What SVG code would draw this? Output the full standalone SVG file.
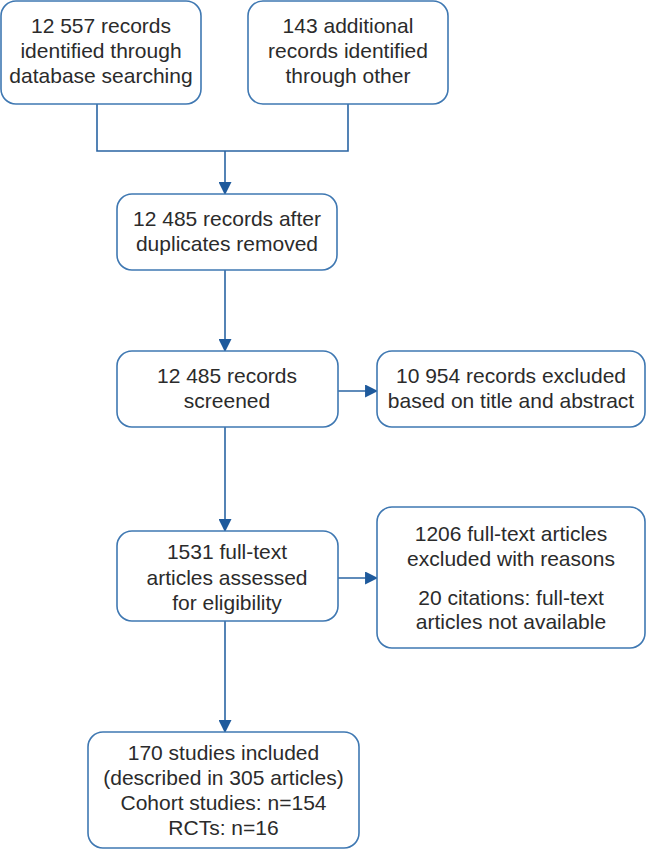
<svg xmlns="http://www.w3.org/2000/svg" width="646" height="852" viewBox="0 0 646 852">
<defs>
<marker id="ah" viewBox="0 0 12 12" refX="11" refY="6" markerWidth="13" markerHeight="13" markerUnits="userSpaceOnUse" orient="auto">
<path d="M0,0 L12,6 L0,12 Z" fill="#1e5a9c"/>
</marker>
<style>
.box{fill:#fff;stroke:#3f78b2;stroke-width:1.6}
.t{font-family:"Liberation Sans",Arial,sans-serif;font-size:21px;fill:#2b2b2b;text-anchor:middle}
.c{fill:none;stroke:#2a64a3;stroke-width:1.6}
</style>
</defs>
<rect width="646" height="852" fill="#fff"/>
<g id="connectors">
<polyline class="c" points="97,104 97,151 348,151 348,104"/>
<line class="c" x1="225" y1="151" x2="225" y2="194" marker-end="url(#ah)"/>
<line class="c" x1="225" y1="270" x2="225" y2="351" marker-end="url(#ah)"/>
<line class="c" x1="338" y1="391" x2="377" y2="391" marker-end="url(#ah)"/>
<line class="c" x1="225" y1="427" x2="225" y2="531" marker-end="url(#ah)"/>
<line class="c" x1="338" y1="578" x2="377" y2="578" marker-end="url(#ah)"/>
<line class="c" x1="225" y1="621" x2="225" y2="732" marker-end="url(#ah)"/>
</g>
<g id="n1">
<rect class="box" x="1" y="1" width="200" height="103" rx="15"/>
<text class="t" x="101" y="33">12 557 records</text>
<text class="t" x="101" y="58">identified through</text>
<text class="t" x="101" y="83">database searching</text>
</g>
<g id="n2">
<rect class="box" x="248" y="1" width="200" height="103" rx="15"/>
<text class="t" x="348" y="33">143 additional</text>
<text class="t" x="348" y="58">records identified</text>
<text class="t" x="348" y="83">through other</text>
</g>
<g id="n3">
<rect class="box" x="117" y="194" width="220" height="76" rx="15"/>
<text class="t" x="227" y="226">12 485 records after</text>
<text class="t" x="227" y="251">duplicates removed</text>
</g>
<g id="n4">
<rect class="box" x="117" y="351" width="221" height="76" rx="15"/>
<text class="t" x="227" y="383">12 485 records</text>
<text class="t" x="227" y="408">screened</text>
</g>
<g id="n5">
<rect class="box" x="377" y="351" width="268" height="76" rx="15"/>
<text class="t" x="511" y="383">10 954 records excluded</text>
<text class="t" x="511" y="408">based on title and abstract</text>
</g>
<g id="n6">
<rect class="box" x="117" y="531" width="221" height="90" rx="15"/>
<text class="t" x="227" y="559">1531 full-text</text>
<text class="t" x="227" y="585">articles assessed</text>
<text class="t" x="227" y="610">for eligibility</text>
</g>
<g id="n7">
<rect class="box" x="377" y="507" width="268" height="141" rx="15"/>
<text class="t" x="511" y="541">1206 full-text articles</text>
<text class="t" x="511" y="566">excluded with reasons</text>
<text class="t" x="511" y="605">20 citations: full-text</text>
<text class="t" x="511" y="629">articles not available</text>
</g>
<g id="n8">
<rect class="box" x="88" y="732" width="271" height="116" rx="15"/>
<text class="t" x="223.5" y="760">170 studies included</text>
<text class="t" x="223.5" y="785">(described in 305 articles)</text>
<text class="t" x="223.5" y="810">Cohort studies: n=154</text>
<text class="t" x="223.5" y="835">RCTs: n=16</text>
</g>
</svg>
